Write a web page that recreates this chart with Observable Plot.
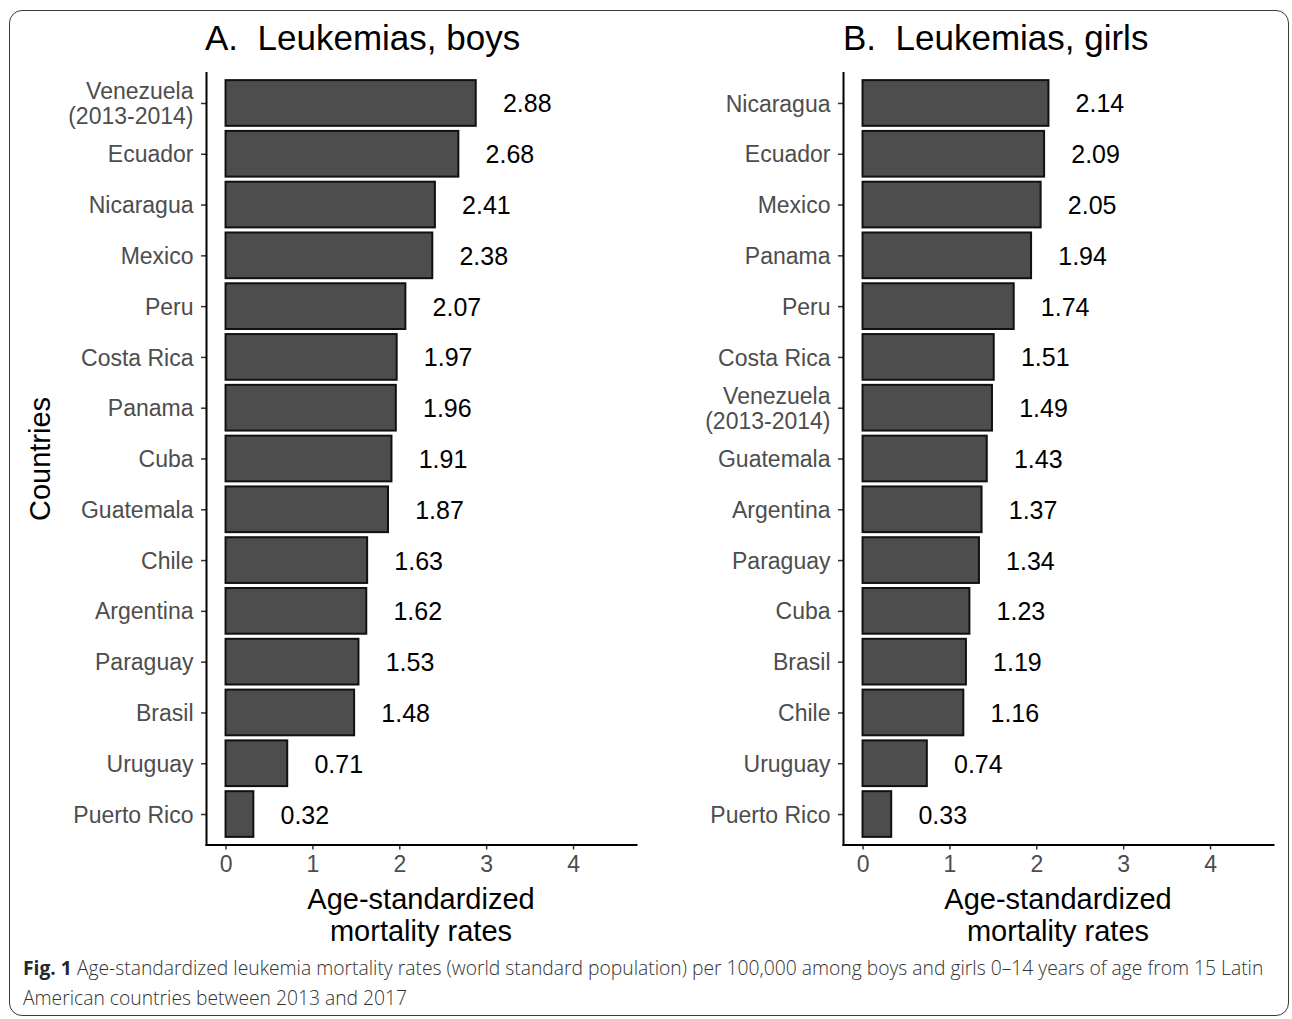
<!DOCTYPE html>
<html>
<head>
<meta charset="utf-8">
<script src="https://cdn.jsdelivr.net/npm/d3@7"></script>
<script src="https://cdn.jsdelivr.net/npm/@observablehq/plot@0.6"></script>
<style>
  html, body { margin: 0; padding: 0; background: #fff; }
  #page { position: relative; width: 1292px; height: 1019px; background: #fff; overflow: hidden; font-family: "Liberation Sans", Arial, sans-serif; }
  #border { position: absolute; left: 9px; top: 10px; width: 1278px; height: 1004px; border: 1.6px solid #3a3a3a; border-radius: 13px; }
  .panel { position: absolute; top: 60px; }
  .title { position: absolute; top: 20px; font-size: 35px; color: #000; white-space: pre; line-height: 1; }
  .xlab { position: absolute; top: 883px; width: 430px; text-align: center; font-size: 29px; line-height: 32px; color: #000; }
  #ylab { position: absolute; left: 40px; top: 459px; transform: translate(-50%, -50%) rotate(-90deg); font-size: 29px; color: #000; white-space: nowrap; }
  #caption { position: absolute; left: 23px; top: 953px; font-family: "Open Sans", sans-serif; font-weight: 300; font-size: 19.3px; line-height: 30px; color: #333; white-space: nowrap; }
  #caption b { font-weight: 700; color: #1f2a30; }
</style>
</head>
<body>
<div id="page">
  <div id="border"></div>
  <div class="title" style="left:205px">A.  Leukemias, boys</div>
  <div class="title" style="left:843px">B.  Leukemias, girls</div>
  <div id="ylab">Countries</div>
  <div id="panelA" class="panel" style="left:0px"></div>
  <div id="panelB" class="panel" style="left:637px"></div>
  <div class="xlab" style="left:206px">Age-standardized<br>mortality rates</div>
  <div class="xlab" style="left:843px">Age-standardized<br>mortality rates</div>
  <div id="caption"><b>Fig. 1</b> Age-standardized leukemia mortality rates (world standard population) per 100,000 among boys and girls 0–14 years of age from 15 Latin<br>American countries between 2013 and 2017</div>
</div>
<script>
const boysCountries = ["Venezuela\n(2013-2014)", "Ecuador", "Nicaragua", "Mexico", "Peru", "Costa Rica", "Panama", "Cuba", "Guatemala", "Chile", "Argentina", "Paraguay", "Brasil", "Uruguay", "Puerto Rico"];
const boysValues = [2.88, 2.68, 2.41, 2.38, 2.07, 1.97, 1.96, 1.91, 1.87, 1.63, 1.62, 1.53, 1.48, 0.71, 0.32];
const girlsCountries = ["Nicaragua", "Ecuador", "Mexico", "Panama", "Peru", "Costa Rica", "Venezuela\n(2013-2014)", "Guatemala", "Argentina", "Paraguay", "Cuba", "Brasil", "Chile", "Uruguay", "Puerto Rico"];
const girlsValues = [2.14, 2.09, 2.05, 1.94, 1.74, 1.51, 1.49, 1.43, 1.37, 1.34, 1.23, 1.19, 1.16, 0.74, 0.33];
const xTicks = [0, 1, 2, 3, 4];

function panel(countries, values) {
  const data = countries.map((c, i) => ({country: c, value: values[i]}));
  return Plot.plot({
    width: 646,
    height: 825,
    marginLeft: 206,
    marginRight: 10,
    marginTop: 12.5,
    marginBottom: 40.5,
    style: {fontFamily: "'Liberation Sans', Arial, sans-serif", fontSize: "23px", background: "transparent", overflow: "visible"},
    x: {domain: [-0.225, 4.725]},
    y: {domain: countries, paddingInner: 0.1, paddingOuter: 0.15, round: false},
    marks: [
      Plot.barX(data, {x: "value", y: "country", fill: "#4d4d4d", stroke: "#111", strokeWidth: 2}),
      Plot.text(data, {x: "value", y: "country", text: d => d.value.toFixed(2), dx: 51, dy: 1, textAnchor: "middle", fontSize: 25, fill: "#000"}),
      Plot.axisY({tickSize: 5, tickPadding: 8, fontSize: 23, fill: "#4d4d4d", stroke: "#333", strokeWidth: 1.5, label: null, lineHeight: 1.1}),
      Plot.axisX({ticks: xTicks, tickFormat: d => String(d), tickSize: 5, tickPadding: 6, fontSize: 23, fill: "#4d4d4d", stroke: "#333", strokeWidth: 1.5, label: null}),
      Plot.frame({anchor: "left", stroke: "#000", strokeWidth: 2}),
      Plot.frame({anchor: "bottom", stroke: "#000", strokeWidth: 2})
    ]
  });
}

document.getElementById("panelA").appendChild(panel(boysCountries, boysValues));
document.getElementById("panelB").appendChild(panel(girlsCountries, girlsValues));
</script>
</body>
</html>
